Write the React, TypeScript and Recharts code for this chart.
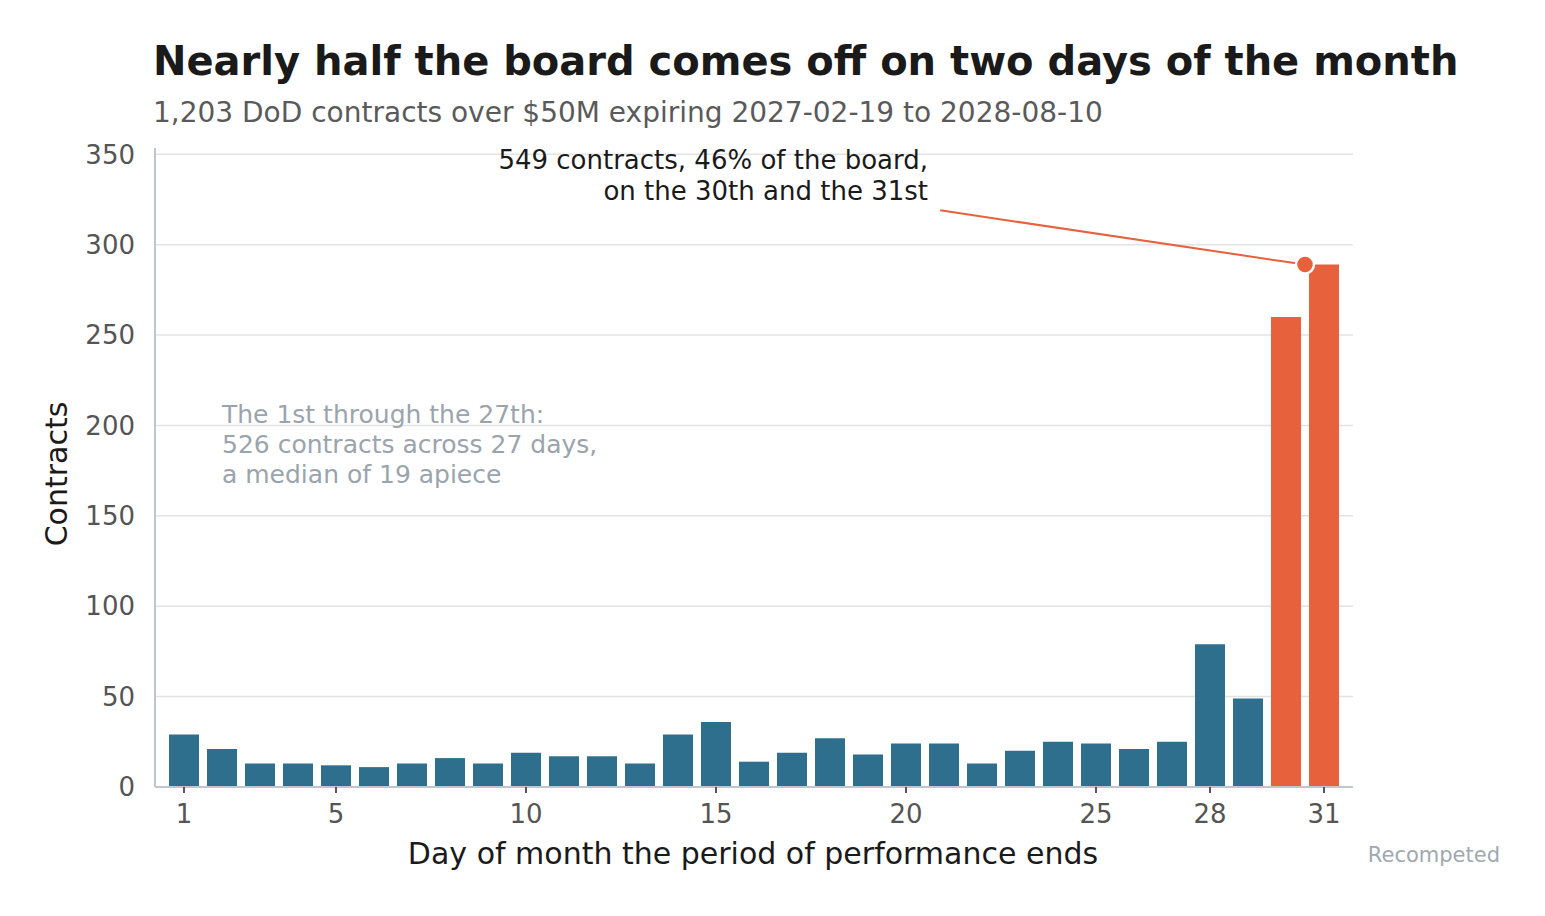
import React from 'react';
import { BarChart, Bar, XAxis, YAxis, CartesianGrid, Cell, ReferenceDot, ReferenceLine } from 'recharts';

const days = [1,2,3,4,5,6,7,8,9,10,11,12,13,14,15,16,17,18,19,20,21,22,23,24,25,26,27,28,29,30,31];
const counts = [29,21,13,13,12,11,13,16,13,19,17,17,13,29,36,14,19,27,18,24,24,13,20,25,24,21,25,79,49,260,289];
const highlighted = [30, 31];
const xTicks = [1, 5, 10, 15, 20, 25, 28, 31];
const yTicks = [0, 50, 100, 150, 200, 250, 300, 350];

const title = 'Nearly half the board comes off on two days of the month';
const subtitle = '1,203 DoD contracts over $50M expiring 2027-02-19 to 2028-08-10';
const xLabel = 'Day of month the period of performance ends';
const yLabel = 'Contracts';
const calloutLines = ['549 contracts, 46% of the board,', 'on the 30th and the 31st'];
const noteLines = ['The 1st through the 27th:', '526 contracts across 27 days,', 'a median of 19 apiece'];
const calloutPoint = { x: 30.5, y: 289 };
const calloutStart = { x: 20.9, y: 319 };

const data = days.map((d, i) => ({ day: d, count: counts[i] }));

const BLUE = '#2e6f8e';
const ORANGE = '#e8613d';
const FONT = '"DejaVu Sans", sans-serif';

export default function App() {
  return (
    <div style={{ position: 'absolute', left: 0, top: 0, width: 1545, height: 916, background: '#fff', fontFamily: FONT }}>
      <BarChart
        width={1545}
        height={916}
        data={data}
        margin={{ top: 148, right: 192, bottom: 89, left: 75 }}
        barCategoryGap="10.5%"
      >
        <CartesianGrid vertical={false} horizontalValues={yTicks} stroke="#e3e3e3" strokeWidth={1.5} />
        <XAxis
          dataKey="day"
          type="category"
          ticks={xTicks}
          interval={0}
          height={40}
          padding={{ left: 10, right: 10 }}
          axisLine={{ stroke: '#c0c6cc', strokeWidth: 2 }}
          tickLine={{ stroke: '#555', strokeWidth: 2 }}
          tickSize={6}
          tickMargin={12}
          tick={{ fill: '#555', fontSize: 26, fontFamily: FONT }}
        />
        <XAxis
          xAxisId="num"
          dataKey="day"
          type="number"
          domain={[0.5, 31.5]}
          padding={{ left: 10, right: 10 }}
          hide
        />
        <YAxis
          width={80}
          domain={[0, 353.5]}
          ticks={yTicks}
          interval={0}
          axisLine={{ stroke: '#c0c6cc', strokeWidth: 2 }}
          tickLine={false}
          tickSize={0}
          tickMargin={20}
          tick={{ fill: '#555', fontSize: 26, fontFamily: FONT }}
        />
        <Bar dataKey="count" isAnimationActive={false}>
          {data.map((d) => (
            <Cell key={d.day} fill={highlighted.includes(d.day) ? ORANGE : BLUE} />
          ))}
        </Bar>
        <ReferenceLine
          xAxisId="num"
          segment={[calloutStart, calloutPoint]}
          stroke={ORANGE}
          strokeWidth={2}
          ifOverflow="visible"
        />
        <ReferenceDot
          xAxisId="num"
          x={calloutPoint.x}
          y={calloutPoint.y}
          r={9}
          fill={ORANGE}
          stroke="#fff"
          strokeWidth={2.5}
          ifOverflow="visible"
        />
      </BarChart>
      <svg width={1545} height={916} style={{ position: 'absolute', left: 0, top: 0, pointerEvents: 'none' }}>
        <text x={153} y={75} fontSize={40} fontWeight="bold" fill="#1a1a1a" fontFamily={FONT}>{title}</text>
        <text x={153} y={122} fontSize={28} fill="#5a5a5a" fontFamily={FONT}>{subtitle}</text>
        <text x={753} y={864} fontSize={30} fill="#1a1a1a" textAnchor="middle" fontFamily={FONT}>{xLabel}</text>
        <text transform="translate(67,474) rotate(-90)" fontSize={30} fill="#1a1a1a" textAnchor="middle" fontFamily={FONT}>{yLabel}</text>
        {calloutLines.map((t, i) => (
          <text key={t} x={928} y={169 + i * 31} fontSize={26} fill="#1a1a1a" textAnchor="end" fontFamily={FONT}>{t}</text>
        ))}
        {noteLines.map((t, i) => (
          <text key={t} x={222} y={423 + i * 30} fontSize={25} fill="#9aa4ad" fontFamily={FONT}>{t}</text>
        ))}
        <text x={1500} y={862} fontSize={21} fill="#a0a8b0" textAnchor="end" fontFamily={FONT}>Recompeted</text>
      </svg>
    </div>
  );
}
